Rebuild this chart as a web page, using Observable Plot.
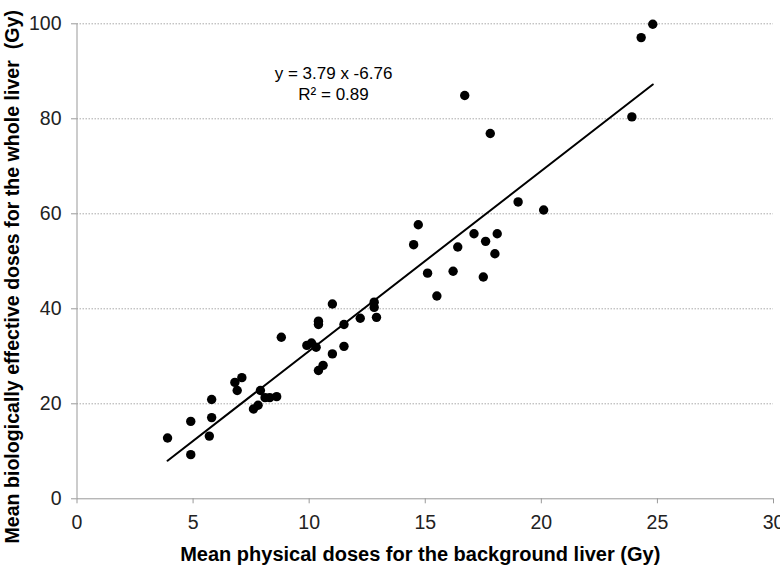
<!DOCTYPE html>
<html>
<head>
<meta charset="utf-8">
<script src="https://cdn.jsdelivr.net/npm/d3@7"></script>
<script src="https://cdn.jsdelivr.net/npm/@observablehq/plot@0.6"></script>
<style>
  html, body { margin: 0; padding: 0; background: #fff; }
  #chart { width: 780px; height: 577px; }
  svg { font-family: "Liberation Sans", Arial, sans-serif; }
</style>
</head>
<body>
<div id="chart"></div>
<script>
// Mean physical doses for the background liver (Gy)
const physicalDose = [
  3.9, 4.9, 4.9, 5.7, 5.8, 5.8, 6.8, 6.9, 7.1, 7.6,
  7.8, 7.9, 8.1, 8.3, 8.6, 8.8, 9.9, 10.1, 10.3, 10.4,
  10.6, 10.4, 10.4, 11.0, 11.0, 11.5, 11.5, 12.2, 12.8, 12.8,
  12.9, 14.7, 14.5, 15.1, 15.5, 16.2, 16.4, 17.1, 17.5, 17.6,
  18.0, 18.1, 19.0, 20.1, 16.7, 17.8, 23.9, 24.3, 24.8
];
// Mean biologically effective doses for the whole liver (Gy)
const bedDose = [
  12.8, 9.3, 16.3, 13.2, 17.1, 20.9, 24.5, 22.8, 25.5, 18.9,
  19.7, 22.8, 21.3, 21.3, 21.5, 34.0, 32.3, 32.8, 31.9, 27.0,
  28.1, 37.4, 36.7, 41.0, 30.5, 36.7, 32.1, 38.0, 41.4, 40.3,
  38.2, 57.7, 53.5, 47.5, 42.7, 47.9, 53.0, 55.8, 46.7, 54.2,
  51.6, 55.8, 62.5, 60.8, 84.9, 76.9, 80.4, 97.1, 99.9
];
// Linear fit shown on the chart
const slope = 3.79;
const intercept = -6.76;
const r2 = 0.89;

const xTicks = [0, 5, 10, 15, 20, 25, 30];
const yTicks = [0, 20, 40, 60, 80, 100];
const gridTicks = [20, 40, 60, 80, 100];
const xTitle = "Mean physical doses for the background liver (Gy)";
const yTitle = "Mean biologically effective doses for the whole liver  (Gy)";

const points = physicalDose.map((x, i) => ({x, y: bedDose[i]}));
const xMin = d3.min(physicalDose), xMax = d3.max(physicalDose);
const fitLine = [xMin, xMax].map(x => ({x, y: slope * x + intercept}));
const eqText = `y = ${slope} x ${intercept}\nR² = ${r2}`;

const chart = Plot.plot({
  width: 780,
  height: 577,
  marginLeft: 76.5,
  marginRight: 7,
  marginTop: 23.3,
  marginBottom: 78.7,
  style: {fontFamily: "Liberation Sans, Arial, sans-serif", background: "#fff"},
  x: {domain: [0, 30]},
  y: {domain: [0, 100]},
  marks: [
    Plot.ruleY(gridTicks, {stroke: "#aaa", strokeDasharray: "1.5,1.5", strokeWidth: 1}),
    Plot.ruleY([0], {stroke: "#999", strokeWidth: 1}),
    Plot.ruleX([0], {stroke: "#999", strokeWidth: 1}),
    // tick marks only
    Plot.axisX({ticks: xTicks, tickSize: 5, stroke: "#999", fill: "none", label: null}),
    Plot.axisY({ticks: yTicks, tickSize: 5.5, stroke: "#999", fill: "none", label: null}),
    // tick labels
    Plot.text(xTicks, {
      x: d => d, text: d => String(d), frameAnchor: "bottom", lineAnchor: "top",
      textAnchor: "middle", dy: 16, fontSize: 19.5, fill: "#222"
    }),
    Plot.text(yTicks, {
      y: d => d, text: d => String(d), frameAnchor: "left", lineAnchor: "middle",
      textAnchor: "end", dx: -15.5, fontSize: 19.5, fill: "#222"
    }),
    // axis titles
    Plot.text([xTitle], {
      frameAnchor: "bottom", text: d => d, dx: -5, dy: 56, textAnchor: "middle",
      fontSize: 20, fontWeight: "bold", fill: "#000", lineAnchor: "middle"
    }),
    Plot.text([yTitle], {
      frameAnchor: "left", text: d => d, rotate: -90, dx: -64, dy: 15.5, textAnchor: "middle",
      fontSize: 19.6, fontWeight: "bold", fill: "#000", lineAnchor: "middle"
    }),
    Plot.line(fitLine, {x: "x", y: "y", stroke: "#000", strokeWidth: 2}),
    Plot.dot(points, {x: "x", y: "y", r: 4.7, fill: "#000", stroke: "none"}),
    Plot.text([eqText], {x: 11.05, y: 87.6, text: d => d, fontSize: 17, lineHeight: 1.24, fill: "#000"})
  ]
});

document.getElementById("chart").appendChild(chart);
</script>
</body>
</html>
